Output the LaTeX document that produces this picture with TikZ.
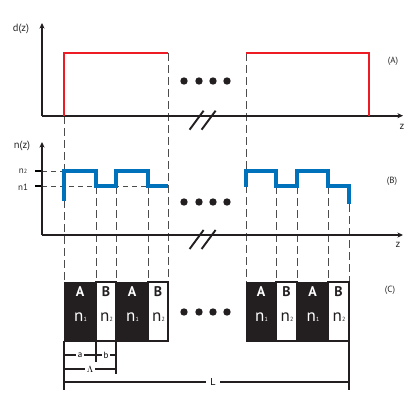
\documentclass[tikz,border=0pt]{standalone}
\usepackage{fontspec}
\setmainfont{PT Sans}
\usetikzlibrary{arrows.meta}

\definecolor{pulsered}{HTML}{ED1C24}
\definecolor{waveblue}{HTML}{0072BC}
\definecolor{inkblack}{HTML}{231F20}

\newcommand{\tinysub}[1]{{\fontsize{6}{6}\selectfont #1}}

\tikzset{
    axis/.style={line width=1.9pt, draw=inkblack, -{Stealth[length=5.5pt, width=5pt, inset=1.5pt]}},
    redpulse/.style={line width=2.4pt, draw=pulsered},
    bluewave/.style={line width=3.4pt, draw=waveblue},
    guide/.style={line width=0.9pt, draw=black!70, dash pattern=on 8pt off 4pt},
    levelguide/.style={line width=0.9pt, draw=black!70, dash pattern=on 5pt off 4pt},
    brk/.style={line width=1.9pt, draw=inkblack},
    dimline/.style={line width=1.4pt, draw=inkblack},
    blockA/.style={fill=inkblack, draw=inkblack, line width=1pt},
    blockB/.style={fill=white, draw=inkblack, line width=1.3pt},
    lbl/.style={font=\fontsize{10.5}{12}\selectfont, text=black!85, inner sep=1pt},
    tag/.style={font=\fontsize{9}{11}\selectfont, text=black!85, inner sep=1pt},
    dimtxt/.style={font=\fontsize{9}{11}\selectfont, fill=white, inner sep=2pt},
}

\begin{document}
\begin{tikzpicture}[x=1pt, y=-1pt]
    \useasboundingbox (0,0) rectangle (415,415);

    % Dashed guides from the profiles down to the layers
    \foreach \x/\t in {64/116, 168/53, 246/53, 96/186, 116/186, 148/186,
                       276/186, 297/186, 328/186, 349/204}
        \draw[guide] (\x,\t) -- (\x,282);

    % Panel A: the thickness profile
    \coordinate (OA) at (42,115.7);
    \draw[axis] (OA) -- (42,23);
    \draw[axis] (OA) -- (403,115.7);
    \draw[redpulse] (64,115.7) -- (64,52.7) -- (168,52.7);
    \draw[redpulse] (246,52.7) -- (369,52.7) -- (369,115.7);
    \node[lbl] (dz) at (21,29) {d(z)};
    \node[lbl] (zA) at (402,127) {z};
    \node[tag] (tagA) at (393,61) {(A)};

    % Panel B: the index profile
    \coordinate (OB) at (42,235);
    \draw[levelguide] (42,171) -- (64,171);
    \draw[levelguide] (42,186) -- (168,186);
    \draw[line width=1.3pt] (35,171) -- (42,171);
    \draw[line width=1.3pt] (35,186) -- (42,186);
    \draw[axis] (OB) -- (42,142);
    \draw[axis] (OB) -- (403,235);
    \draw[bluewave] (64,201) -- (64,171) -- (96,171) -- (96,186) -- (116,186)
        -- (116,171) -- (148,171) -- (148,186) -- (168,186);
    \draw[bluewave] (246,187) -- (246,171) -- (276,171) -- (276,186) -- (297,186)
        -- (297,171) -- (328,171) -- (328,186) -- (349,186) -- (349,204);
    \node[lbl] (nz) at (22,146) {n(z)};
    \node[tag] (ntwo) at (23,171) {n\tinysub{2}};
    \node[tag] (none) at (23,187) {n1};
    \node[lbl] (zB) at (398,245) {z};
    \node[tag] (tagB) at (392,181) {(B)};

    % Axis breaks
    \foreach \y in {115.7, 235}
        \foreach \x in {200, 212}
            \draw[brk] (\x-10.4,\y+14) -- (\x+3.6,\y-5);

    % Dots between the periods
    \foreach \y in {81, 202, 312}
        \foreach \x in {184, 199, 213, 227}
            \fill[inkblack] (\x,\y) circle (3.7);

    % Panel C: the layers
    \foreach \l/\r/\k/\n/\c [count=\i] in {64/96/A/1/white, 96/116/B/2/inkblack,
            116/148/A/1/white, 148/168/B/2/inkblack, 246/276/A/1/white,
            276/297/B/2/inkblack, 297/328/A/1/white, 328/349/B/2/inkblack} {
        \draw[block\k] (\l,282) rectangle (\r,341);
        \node[text=\c, font=\fontsize{14}{14}\selectfont\bfseries] (lay\i)
            at ({(\l+\r)/2},292) {\k};
        \node[text=\c, font=\fontsize{17}{17}\selectfont] (idx\i)
            at ({(\l+\r)/2+0.5},317) {n\tinysub{\n}};
    }
    \node[tag] (tagC) at (390,290) {(C)};

    % Dimensions a, b, Lambda and L
    \draw[dimline] (64,341) -- (64,390);
    \draw[dimline] (96,341) -- (96,362);
    \draw[dimline] (116,341) -- (116,374);
    \draw[dimline] (349,341) -- (349,390);
    \draw[dimline] (64,355) -- node[dimtxt] (da) {a} (96,355);
    \draw[dimline] (96,355) -- node[dimtxt] (db) {b} (116,355);
    \draw[dimline] (64,369) -- node[dimtxt] (dl) {$\Lambda$} (116,369);
    \draw[dimline] (64,382) -- (349,382);
    \node[dimtxt, font=\fontsize{10}{12}\selectfont, inner sep=4pt] (dL) at (213,382) {L};
\end{tikzpicture}
\end{document}
